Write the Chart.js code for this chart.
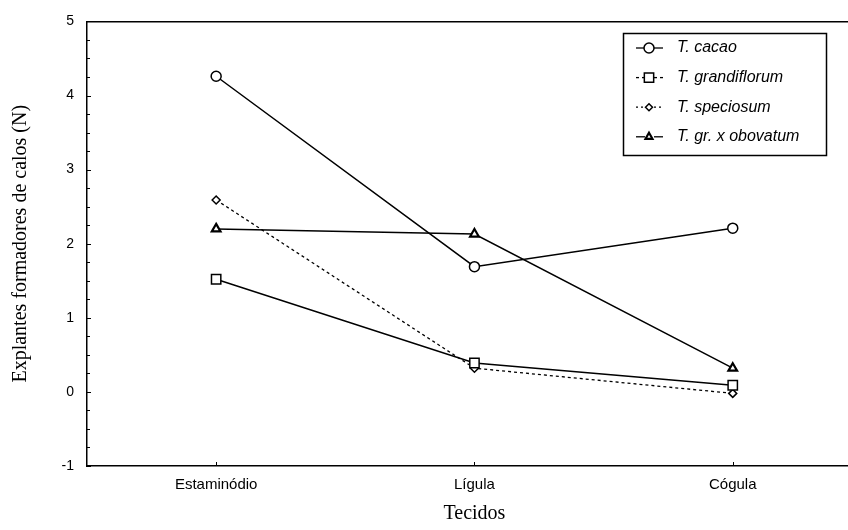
<!DOCTYPE html>
<html>
<head>
<meta charset="utf-8">
<script src="https://cdn.jsdelivr.net/npm/chart.js@4"></script>
<style>
html,body{margin:0;padding:0;background:#fff;overflow:hidden;}
#wrap{position:relative;width:870px;height:530px;}
</style>
</head>
<body>
<div id="wrap"><canvas id="c"></canvas></div>
<script>
const categories = ['Estaminódio', 'Lígula', 'Cógula'];
const seriesNames = ['T. cacao', 'T. grandiflorum', 'T. speciosum', 'T. gr. x obovatum'];
const cacao = [4.26, 1.69, 2.21];
const grandiflorum = [1.52, 0.39, 0.09];
const speciosum = [2.59, 0.32, -0.02];
const obovatum = [2.20, 2.13, 0.32];
const yTickLabels = [-1, 0, 1, 2, 3, 4, 5];

const legendDash = [[], [3, 3], [2, 3], []];

const inwardTicks = {
  id: 'inwardTicks',
  afterDraw(chart) {
    const ctx = chart.ctx, ca = chart.chartArea;
    const y = chart.scales.y, x = chart.scales.x;
    ctx.save();
    ctx.strokeStyle = '#000';
    ctx.lineWidth = 1;
    y.ticks.forEach(t => {
      const py = Math.round(y.getPixelForValue(t.value)) + 0.5;
      const len = Number.isInteger(t.value) ? 4 : 3;
      ctx.beginPath(); ctx.moveTo(ca.left, py); ctx.lineTo(ca.left + len, py); ctx.stroke();
    });
    categories.forEach((c, i) => {
      const px = Math.round(x.getPixelForValue(i)) + 0.5;
      ctx.beginPath(); ctx.moveTo(px, ca.bottom); ctx.lineTo(px, ca.bottom - 4); ctx.stroke();
    });
    ctx.restore();
  }
};

const boxLegend = {
  id: 'boxLegend',
  afterDraw(chart) {
    const ctx = chart.ctx;
    const bx = 623.5, by = 33.5, bw = 203, bh = 122;
    ctx.save();
    ctx.fillStyle = '#fff';
    ctx.fillRect(bx, by, bw, bh);
    ctx.strokeStyle = '#000';
    ctx.lineWidth = 1.5;
    ctx.strokeRect(bx, by, bw, bh);
    chart.data.datasets.forEach((ds, i) => {
      const cy = 48 + i * 29.6;
      const cx = 649;
      ctx.save();
      ctx.strokeStyle = '#000';
      ctx.lineWidth = 1.3;
      ctx.setLineDash(legendDash[i]);
      ctx.beginPath(); ctx.moveTo(636, cy); ctx.lineTo(cx - 4, cy); ctx.stroke();
      ctx.beginPath(); ctx.moveTo(cx + 5, cy); ctx.lineTo(663, cy); ctx.stroke();
      ctx.restore();
      const r = i === 2 ? 3.5 : (i === 3 ? 4 : ds.pointRadius);
      ctx.save();
      ctx.fillStyle = '#fff';
      ctx.strokeStyle = '#000';
      ctx.lineWidth = ds.pointBorderWidth;
      ctx.setLineDash([]);
      Chart.helpers.drawPoint(ctx, {
        pointStyle: ds.pointStyle, radius: r, borderWidth: ds.pointBorderWidth
      }, cx, cy);
      ctx.restore();
      ctx.fillStyle = '#000';
      ctx.font = 'italic 16px "Liberation Sans", Arial, sans-serif';
      ctx.textBaseline = 'middle';
      ctx.textAlign = 'left';
      ctx.fillText(ds.label, 677, cy);
    });
    ctx.restore();
  }
};

function mk(label, data, style, radius, dash, bw) {
  return {
    label, data,
    borderColor: '#000', borderWidth: 1.5, borderDash: dash,
    pointStyle: style, pointRadius: radius, pointHoverRadius: radius,
    pointBackgroundColor: '#fff', pointBorderColor: '#000', pointBorderWidth: bw,
    fill: false, tension: 0
  };
}

const datasets = [
  mk(seriesNames[0], cacao, 'circle', 5, [], 1.5),
  mk(seriesNames[1], grandiflorum, 'rect', 6.6, [], 1.5),
  mk(seriesNames[2], speciosum, 'rectRot', 4, [3, 3], 1.5),
  mk(seriesNames[3], obovatum, 'triangle', 5, [], 2.2)
];
datasets[2].borderWidth = 1.3;

new Chart(document.getElementById('c'), {
  type: 'line',
  data: { labels: categories, datasets },
  plugins: [inwardTicks, boxLegend],
  options: {
    responsive: true,
    maintainAspectRatio: false,
    animation: false,
    devicePixelRatio: 1,
    layout: { padding: { left: 0, right: 8, top: 20, bottom: 0 } },
    plugins: { legend: { display: false }, tooltip: { enabled: false } },
    scales: {
      x: {
        type: 'category',
        offset: true,
        grid: { display: false, drawTicks: false },
        border: { display: true, color: '#000', width: 1.5 },
        ticks: { color: '#000', font: { family: '"Liberation Sans", Arial, sans-serif', size: 15 }, padding: 10, maxRotation: 0 },
        title: { display: true, text: 'Tecidos', color: '#000', font: { family: '"Liberation Serif", "Times New Roman", serif', size: 20 }, padding: { top: 0, bottom: 4 } },
        afterFit(s) { s.height = 64; }
      },
      xTop: {
        type: 'category',
        position: 'top',
        offset: true,
        grid: { display: false, drawTicks: false },
        border: { display: true, color: '#000', width: 1.5 },
        ticks: { display: false },
        afterFit(s) { s.height = 0; }
      },
      y: {
        min: -1, max: 5,
        grid: { display: false, drawTicks: false },
        border: { display: true, color: '#000', width: 1.5 },
        ticks: {
          stepSize: 0.25, autoSkip: false, color: '#000', padding: 13,
          font: { family: '"Liberation Sans", Arial, sans-serif', size: 14 },
          callback: v => yTickLabels.includes(v) ? String(v) : ''
        },
        title: { display: true, text: 'Explantes formadores de calos (N)', color: '#000', font: { family: '"Liberation Serif", "Times New Roman", serif', size: 20 }, padding: { top: 9, bottom: 0 } },
        afterFit(s) { s.width = 87; }
      }
    }
  }
});
</script>
</body>
</html>
